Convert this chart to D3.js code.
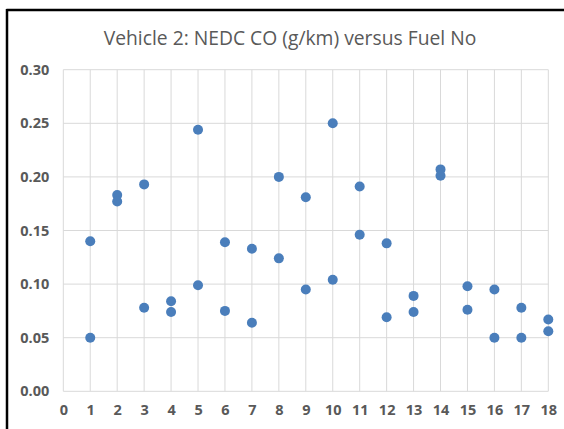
<!DOCTYPE html>
<html>
<head>
<meta charset="utf-8">
<script src="https://cdn.jsdelivr.net/npm/d3@7"></script>
<style>
  html, body { margin: 0; padding: 0; background: #fff; }
  svg { display: block; }
</style>
</head>
<body>
<svg id="chart" width="564" height="429"></svg>
<script>
// Fuel numbers and measured CO for each of the two NEDC tests
const fuelNo = [1,2,3,4,5,6,7,8,9,10,11,12,13,14,15,16,17,18];
const testA = [0.140,0.183,0.193,0.084,0.244,0.139,0.133,0.200,0.181,0.250,0.191,0.138,0.089,0.207,0.098,0.095,0.078,0.067];
const testB = [0.050,0.177,0.078,0.074,0.099,0.075,0.064,0.124,0.095,0.104,0.146,0.069,0.074,0.201,0.076,0.050,0.050,0.056];
const xTicks = d3.range(0, 19);
const yTicks = [0, 0.05, 0.10, 0.15, 0.20, 0.25, 0.30];

const svg = d3.select("#chart");
const W = 564, H = 429;
const plot = { left: 63.3, right: 548.3, top: 69.7, bottom: 391.3 };
const font = "'Open Sans', 'Noto Sans', sans-serif";

// Chart frame: heavy black edge on the top and left
svg.append("line").attr("x1", 6.5).attr("x2", W).attr("y1", 10).attr("y2", 10)
  .attr("stroke", "#000").attr("stroke-width", 2.5);
svg.append("line").attr("x1", 7).attr("x2", 7).attr("y1", 9).attr("y2", H)
  .attr("stroke", "#000").attr("stroke-width", 2.5);

const x = d3.scaleLinear().domain([0, 18]).range([plot.left, plot.right]);
const y = d3.scaleLinear().domain([0, 0.30]).range([plot.bottom, plot.top]);

// Gridlines
const grid = svg.append("g");
grid.selectAll("line.v").data(xTicks).join("line")
  .attr("x1", d => x(d)).attr("x2", d => x(d))
  .attr("y1", plot.top).attr("y2", plot.bottom)
  .attr("stroke", "#d9d9d9").attr("stroke-width", 1);
grid.selectAll("line.h").data(yTicks).join("line")
  .attr("x1", plot.left).attr("x2", plot.right)
  .attr("y1", d => y(d)).attr("y2", d => y(d))
  .attr("stroke", "#d9d9d9").attr("stroke-width", 1);

// Axes
const yAxis = d3.axisLeft(y).tickValues(yTicks).tickFormat(d3.format(".2f")).tickSize(0).tickPadding(14);
const xAxis = d3.axisBottom(x).tickValues(xTicks).tickFormat(d3.format("d")).tickSize(0).tickPadding(13);

const gy = svg.append("g").attr("transform", `translate(${plot.left},0)`).call(yAxis);
const gx = svg.append("g").attr("transform", `translate(0,${plot.bottom})`).call(xAxis);
[gy, gx].forEach(g => {
  g.select(".domain").remove();
  g.selectAll("text")
    .attr("fill", "#595959")
    .style("font-family", font)
    .style("font-size", "14.5px")
    .style("font-weight", "bold");
});
gx.selectAll("text").attr("dy", "0.71em");

// Title
svg.append("text")
  .attr("x", 290).attr("y", 45)
  .attr("text-anchor", "middle")
  .attr("fill", "#595959")
  .style("font-family", font)
  .style("font-size", "19.3px")
  .text("Vehicle 2: NEDC CO (g/km) versus Fuel No");

// Points
const pts = fuelNo.map((f, i) => ({ f, v: testA[i] }))
  .concat(fuelNo.map((f, i) => ({ f, v: testB[i] })));
svg.append("g").selectAll("circle").data(pts).join("circle")
  .attr("cx", d => x(d.f)).attr("cy", d => y(d.v))
  .attr("r", 5)
  .attr("fill", "#4a7ebb");
</script>
</body>
</html>
